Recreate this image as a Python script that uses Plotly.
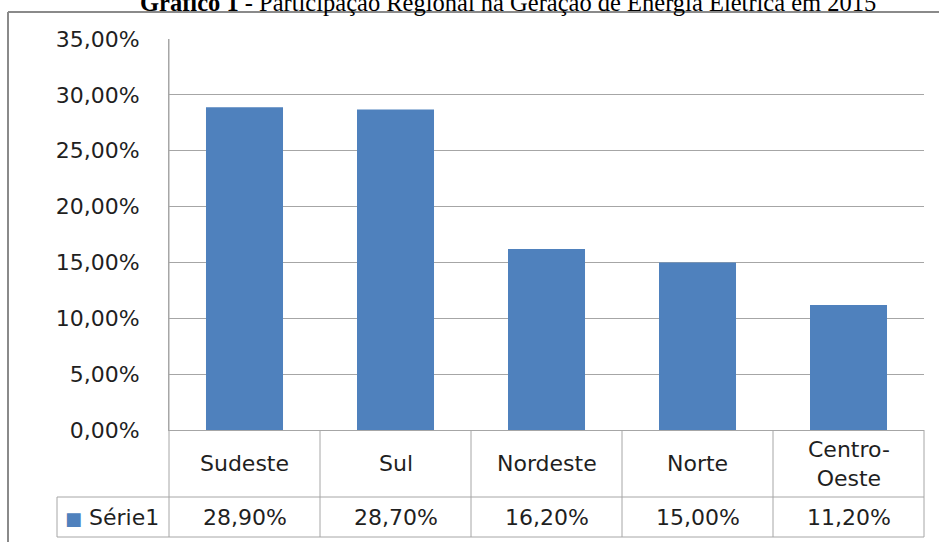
import plotly.graph_objects as go

categories = ["Sudeste", "Sul", "Nordeste", "Norte", "Centro-Oeste"]
category_labels = ["Sudeste", "Sul", "Nordeste", "Norte", "Centro-<br>Oeste"]
values = [28.9, 28.7, 16.2, 15.0, 11.2]
series_name = "Série1"
y_ticks = [0, 5, 10, 15, 20, 25, 30, 35]
title_bold = "Gráfico 1"
title_rest = " - Participação Regional na Geração de Energia Elétrica em 2015"

W, H = 939, 542
L, R, T, B = 169, 15, 39, 112
PW, PH = W - L - R, H - T - B

def px(p):
    return (p - L) / PW

def py(p):
    return (H - B - p) / PH

def pct(v):
    return f"{v:.2f}%".replace(".", ",")

BAR = "#4F81BD"
GRID = "#A6A6A6"
TXT = "#1F1F1F"
FONT = "DejaVu Sans"
FS = 22

fig = go.Figure(go.Bar(
    x=categories, y=values, marker=dict(color=BAR, line=dict(width=0)),
    name=series_name, showlegend=False, hoverinfo="skip"))

shapes = []
line = dict(color=GRID, width=1)
row1, row2 = 497, 537
for yy in (row1, row2):
    shapes.append(dict(type="line", xref="paper", yref="paper",
                       x0=px(57), x1=1, y0=py(yy), y1=py(yy), line=line))
n = len(categories)
for i in range(n + 1):
    xx = i / n
    y_top = py(430) if i > 0 else 1
    shapes.append(dict(type="line", xref="paper", yref="paper",
                       x0=xx, x1=xx, y0=py(row2), y1=y_top, line=line))
shapes.append(dict(type="line", xref="paper", yref="paper",
                   x0=px(57), x1=px(57), y0=py(row2), y1=py(row1), line=line))
frame = dict(color="#8A8A8A", width=2)
shapes.append(dict(type="line", xref="paper", yref="paper",
                   x0=px(8), x1=px(8), y0=py(12), y1=py(560), line=frame))
shapes.append(dict(type="line", xref="paper", yref="paper",
                   x0=px(8), x1=px(960), y0=py(12), y1=py(12), line=frame))

annotations = []
tfont = dict(family=FONT, size=FS, color=TXT)
for i, (lab, v) in enumerate(zip(category_labels, values)):
    annotations.append(dict(xref="x", yref="paper", x=categories[i], y=py((430 + row1) / 2),
                            text=lab, showarrow=False, font=tfont,
                            xanchor="center", yanchor="middle"))
    annotations.append(dict(xref="x", yref="paper", x=categories[i], y=py((row1 + row2) / 2),
                            text=pct(v), showarrow=False, font=tfont,
                            xanchor="center", yanchor="middle"))
annotations.append(dict(xref="paper", yref="paper", x=px(63), y=py((row1 + row2) / 2),
                        text=f'<span style="color:{BAR};font-size:18px">■</span> {series_name}',
                        showarrow=False, font=tfont, xanchor="left", yanchor="middle"))
annotations.append(dict(xref="paper", yref="paper", x=px(508), y=py(2),
                        text=f"<b>{title_bold}</b>{title_rest}", showarrow=False,
                        font=dict(family="Liberation Serif", size=24.5, color="black"),
                        xanchor="center", yanchor="middle"))

fig.update_layout(
    width=W, height=H,
    margin=dict(l=L, r=R, t=T, b=B),
    paper_bgcolor="white", plot_bgcolor="white",
    bargap=0.49,
    font=dict(family=FONT, color=TXT),
    xaxis=dict(showticklabels=False, showgrid=False, ticks="",
               showline=True, linecolor=GRID, linewidth=1, range=[-0.5, 4.5]),
    yaxis=dict(range=[0, 35], tickvals=y_ticks, ticktext=[pct(t) for t in y_ticks],
               showgrid=True, gridcolor=GRID, gridwidth=1, zeroline=False,
               showline=True, linecolor=GRID, linewidth=1, ticks="",
               ticklabelstandoff=24, tickfont=dict(family=FONT, size=FS, color=TXT)),
    shapes=shapes, annotations=annotations,
)

fig.write_html("out.html", config={"displayModeBar": False},
               post_script="document.body.style.margin='0';document.body.style.overflow='hidden';")
